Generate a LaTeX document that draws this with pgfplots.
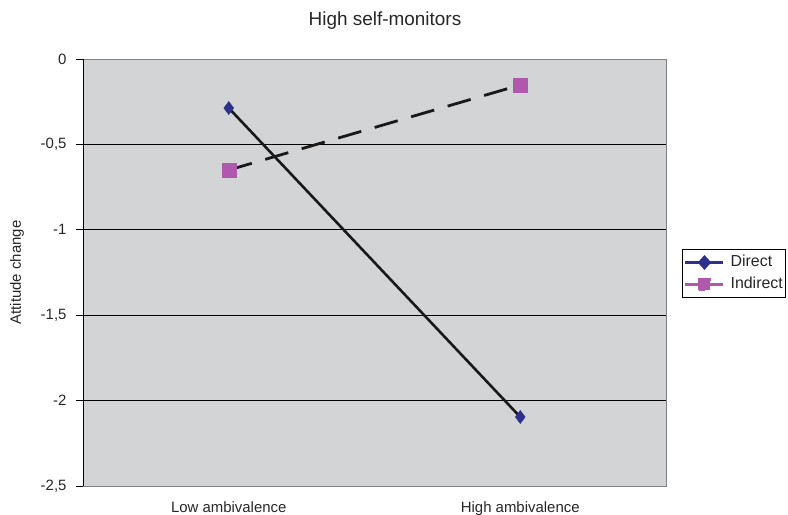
\documentclass[border=0pt]{standalone}
\usepackage{pgfplots}
\pgfplotsset{compat=1.18}
\usepackage{fontspec}
\setmainfont{Liberation Sans}
\definecolor{bgray}{RGB}{211,212,214}
\definecolor{navyser}{RGB}{46,49,140}
\definecolor{magser}{RGB}{176,88,172}
\definecolor{bordgray}{RGB}{128,128,128}
\begin{document}
\begin{tikzpicture}
\useasboundingbox (0,0) rectangle (788bp,515bp);
\begin{axis}[
  at={(83bp,29bp)}, anchor=south west,
  scale only axis, width=583bp, height=427bp,
  xmin=-0.5, xmax=1.5, ymin=-2.5, ymax=0,
  xtick={0,1}, xticklabels={Low ambivalence, High ambivalence},
  major x tick style={draw=none},
  ytick={-2.5,-2,-1.5,-1,-0.5,0}, ytick pos=left,
  /pgf/number format/use comma, /pgf/number format/fixed, /pgf/number format/assume math mode=true,
  tick align=outside, major tick length=7bp,
  y tick style={black, line width=0.8bp},
  ymajorgrids, major grid style={black, line width=0.7bp},
  axis background/.style={fill=bgray},
  axis line style={bordgray, line width=0.8bp},
  tick label style={font=\fontsize{15}{17}\selectfont, text=black!85},
  xticklabel style={yshift=-5bp},
  yticklabel style={xshift=-6bp},
  title={High self-monitors},
  title style={at={(0.518,1.077)}, anchor=center, font=\fontsize{19}{22}\selectfont, text=black!85},
  ylabel={Attitude change},
  every axis y label/.style={at={(-0.1132,0.5)}, rotate=90, anchor=center, font=\fontsize{15}{17}\selectfont, text=black!85},
  legend style={at={(1.0274,0.4977)}, anchor=west, draw=black, line width=0.8bp, fill=white,
    font=\fontsize{16}{18}\selectfont, text=black!85, row sep=5.5bp, inner xsep=2bp, inner ysep=5bp,
    nodes={inner sep=1bp, text height=11.5bp, text depth=3bp},
    /tikz/every odd column/.style={column sep=5bp},
    cells={anchor=west}},
  legend cell align=left,
]
\draw[black, line width=0.9bp] (rel axis cs:0,0) -- (rel axis cs:0,1);
\draw[black, line width=0.9bp] (rel axis cs:0,0) -- (rel axis cs:1,0);
\addplot[black!90, line width=2.6bp, mark=diamond*, mark size=6.5bp,
  mark options={fill=navyser, draw=navyser, solid, line width=0.5bp},
  legend image code/.code={
    \draw[navyser, solid, line width=2.2bp] (0bp,0bp) -- (38bp,0bp);
    \fill[navyser] (19bp,5.5bp) -- (24bp,0bp) -- (19bp,-5.5bp) -- (14bp,0bp) -- cycle;
  }]
  coordinates {(0,-0.287) (1,-2.096)};
\addlegendentry{Direct}
\addplot[black!90, line width=2.8bp, dash pattern=on 24bp off 14bp, mark=square*, mark size=7bp,
  mark options={fill=magser, draw=magser, solid, line width=0.5bp},
  legend image code/.code={
    \draw[magser, solid, line width=2.2bp] (0bp,0bp) -- (38bp,0bp);
    \fill[magser] (13.5bp,-5.5bp) rectangle (24.5bp,5.5bp);
  }]
  coordinates {(0,-0.65) (1,-0.152)};
\addlegendentry{Indirect}
\end{axis}
\end{tikzpicture}
\end{document}
